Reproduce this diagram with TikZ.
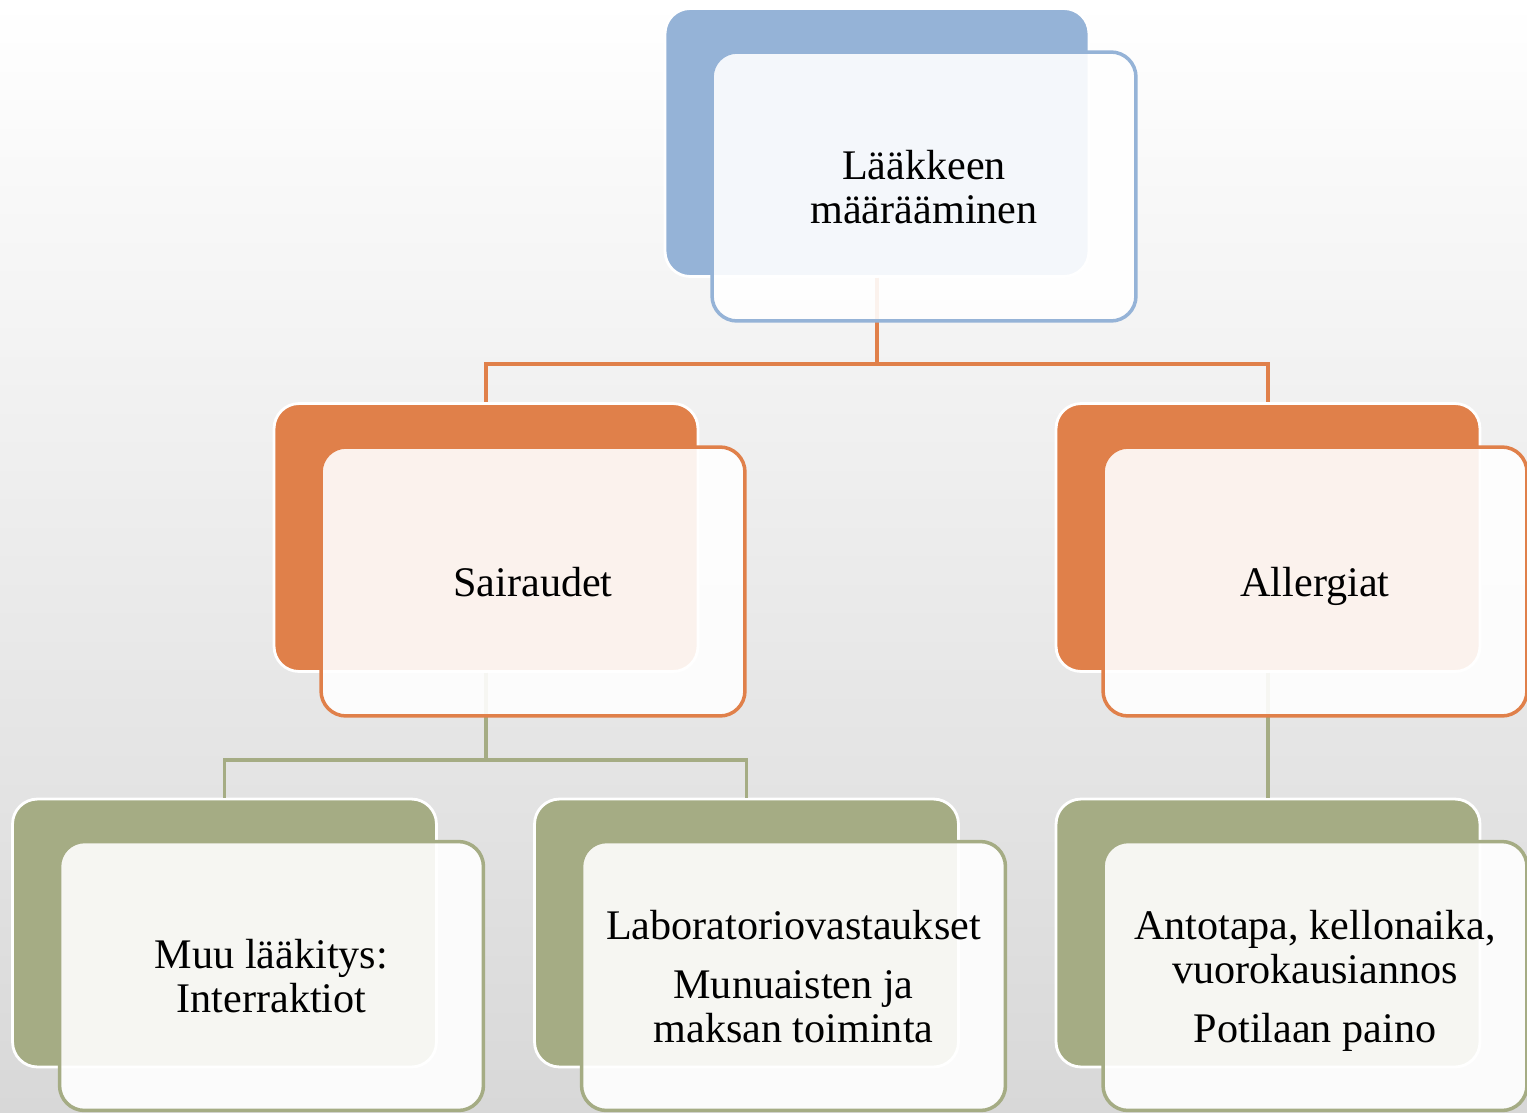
\documentclass[tikz,border=0pt]{standalone}
\usepackage{fontspec}
\setmainfont{Liberation Serif}
\usetikzlibrary{positioning}
\definecolor{SkyBlue}{HTML}{95B3D7}
\definecolor{BurntOrange}{HTML}{E0804A}
\definecolor{SageGreen}{HTML}{A5AC84}
\definecolor{PaleGray}{HTML}{F2F2F2}
\definecolor{MidGray}{HTML}{D8D8D8}
\newcommand{\topstrut}{\rule[-7.5pt]{0pt}{32pt}}

\begin{document}
\begin{tikzpicture}[x=0.02cm, y=-0.02cm,
    backbox/.style={rectangle, rounded corners=0.5cm, fill=#1, draw=white, line width=1.6pt, minimum width=8.48cm, minimum height=5.36cm},
    frontbox/.style={rectangle, rounded corners=0.5cm, fill=white, fill opacity=0.9, text opacity=1, draw=#1, line width=2pt, minimum width=8.48cm, minimum height=5.38cm, align=center, font=\fontsize{24}{25}\selectfont},
    link/.style={line width=2.2pt, draw=#1}]
        % background
        \shade[top color=white, middle color=PaleGray, bottom color=MidGray] (0,0) rectangle (1527,1112);
        \useasboundingbox (0,0) rectangle (1527,1112);

        % back cards
        \node[backbox=SkyBlue] (laakeback) at (877,142.5) {};
        \node[backbox=BurntOrange] (sairback) at (486,537.5) {};
        \node[backbox=BurntOrange] (allerback) at (1268,537.5) {};
        \node[backbox=SageGreen] (muuback) at (224.5,933) {};
        \node[backbox=SageGreen] (labback) at (746.5,933) {};
        \node[backbox=SageGreen] (antoback) at (1268,933) {};

        % connectors
        \draw[link=BurntOrange] (laakeback.south) -- ++(0,86) -| (sairback.north);
        \draw[link=BurntOrange] (laakeback.south) -- ++(0,86) -| (allerback.north);
        \draw[link=SageGreen] (sairback.south) -- ++(0,87) -| (muuback.north);
        \draw[link=SageGreen] (sairback.south) -- ++(0,87) -| (labback.north);
        \draw[link=SageGreen] (allerback.south) -- (antoback.north);

        % front cards
        \node[frontbox=SkyBlue] (laake) at ([shift={(47,44)}]laakeback.center) {\topstrut Lääkkeen\\määrääminen\strut};
        \node[frontbox=BurntOrange] (sair) at ([shift={(47,44)}]sairback.center) {\topstrut Sairaudet\strut};
        \node[frontbox=BurntOrange] (aller) at ([shift={(47,44)}]allerback.center) {\topstrut Allergiat\strut};
        \node[frontbox=SageGreen] (muu) at ([shift={(47,43)}]muuback.center) {\topstrut Muu lääkitys:\\Interraktiot\strut};
        \node[frontbox=SageGreen] (lab) at ([shift={(47,43)}]labback.center) {\topstrut Laboratoriovastaukset\\[9pt]Munuaisten ja\\maksan toiminta\strut};
        \node[frontbox=SageGreen] (anto) at ([shift={(47,43)}]antoback.center) {\topstrut Antotapa, kellonaika,\\vuorokausiannos\\[9pt]Potilaan paino\strut};
      \end{tikzpicture}
\end{document}
